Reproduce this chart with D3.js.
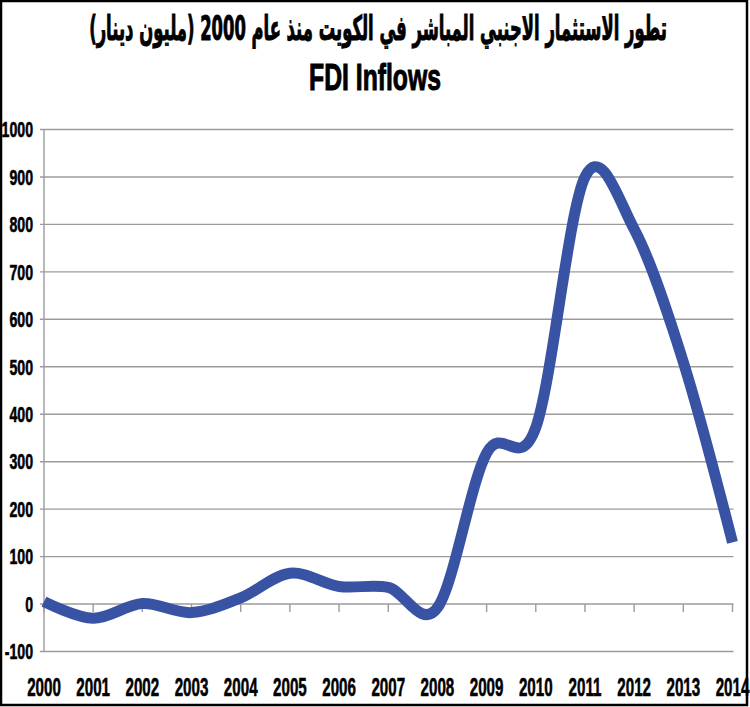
<!DOCTYPE html>
<html>
<head>
<meta charset="utf-8">
<script src="https://cdn.jsdelivr.net/npm/d3@7"></script>
<style>
  html, body { margin: 0; padding: 0; background: #fff; }
  svg { display: block; }
</style>
</head>
<body>
<svg id="chart" width="750" height="707"></svg>
<script>
// ---- data ----
const years = ["2000","2001","2002","2003","2004","2005","2006","2007","2008","2009","2010","2011","2012","2013","2014"];
const fdiValues = [5, -30, 1, -18, 13, 65, 37, 35, -8, 318, 372, 900, 790, 510, 130];
const yTicks = [-100, 0, 100, 200, 300, 400, 500, 600, 700, 800, 900, 1000];
const titleAr = "تطور الاستثمار الاجنبي المباشر في الكويت منذ عام 2000 (مليون دينار)";
const titleEn = "FDI Inflows";

// ---- layout ----
const W = 750, H = 707;
const plot = { left: 44, right: 732.5, top: 129.5, bottom: 651.5 };
const svg = d3.select("#chart");
const narrow = "'Liberation Sans Narrow', 'Arial Narrow', 'Liberation Sans', Arial, sans-serif";

svg.append("rect").attr("x", 0).attr("y", 0).attr("width", W).attr("height", H).attr("fill", "#fff");

const x = d3.scalePoint().domain(years).range([plot.left, plot.right]);
const y = d3.scaleLinear().domain([-100, 1000]).range([plot.bottom, plot.top]);

// gridlines
svg.append("g").selectAll("line").data(yTicks).join("line")
  .attr("x1", plot.left - 4).attr("x2", plot.right + 1)
  .attr("y1", d => y(d)).attr("y2", d => y(d))
  .attr("stroke", "#9b9b9b").attr("stroke-width", 1.4);

// vertical axis line
svg.append("line")
  .attr("x1", plot.left).attr("x2", plot.left)
  .attr("y1", y(1000)).attr("y2", y(-100))
  .attr("stroke", "#9b9b9b").attr("stroke-width", 1.4);

// category ticks on zero line
svg.append("g").selectAll("line").data(years).join("line")
  .attr("x1", d => x(d)).attr("x2", d => x(d))
  .attr("y1", y(0)).attr("y2", y(0) + 8)
  .attr("stroke", "#9b9b9b").attr("stroke-width", 1.4);

function measure(text, size, family) {
  const t = svg.append("text").attr("font-family", family).attr("font-weight", "bold")
    .attr("font-size", size).text(text);
  const w = t.node().getComputedTextLength();
  t.remove();
  return w;
}

// y labels
const ySize = 22;
const ySx = 31.5 / measure("1000", ySize, narrow);
svg.append("g").selectAll("text").data(yTicks).join("text")
  .attr("transform", d => `translate(33,${y(d) + 7.8}) scale(${ySx},1)`)
  .attr("text-anchor", "end")
  .attr("font-family", narrow).attr("font-weight", "bold").attr("font-size", ySize)
  .attr("fill", "#000").attr("stroke", "#000").attr("stroke-width", 0.6)
  .text(d => d);

// x labels
const xSize = 26;
const xSx = 33.7 / measure("2000", xSize, narrow);
svg.append("g").selectAll("text").data(years).join("text")
  .attr("transform", d => `translate(${x(d)},695.5) scale(${xSx},1)`)
  .attr("text-anchor", "middle")
  .attr("font-family", narrow).attr("font-weight", "bold").attr("font-size", xSize)
  .attr("fill", "#000").attr("stroke", "#000").attr("stroke-width", 0.6)
  .text(d => d);

// line
const line = d3.line()
  .x((d, i) => x(years[i]))
  .y(d => y(d))
  .curve(d3.curveCatmullRom.alpha(0));
svg.append("path")
  .datum(fdiValues)
  .attr("d", line)
  .attr("fill", "none")
  .attr("stroke", "#3853a4")
  .attr("stroke-width", 11)
  .attr("stroke-linecap", "butt")
  .attr("stroke-linejoin", "round");

// titles
const arFamily = "'DejaVu Sans Condensed', 'DejaVu Sans', 'Noto Sans', sans-serif";
const arSize = 34;
const arT = svg.append("text")
  .attr("font-family", arFamily).attr("font-weight", "bold").attr("font-size", arSize)
  .attr("direction", "rtl").attr("text-anchor", "middle")
  .attr("fill", "#000").attr("stroke", "#000").attr("stroke-width", 1)
  .text(titleAr);
const arW = arT.node().getComputedTextLength();
arT.attr("transform", `translate(378,40) scale(${578 / arW},1)`);

const enSize = 37;
const enT = svg.append("text")
  .attr("font-family", narrow).attr("font-weight", "bold").attr("font-size", enSize)
  .attr("text-anchor", "middle").attr("fill", "#000")
  .attr("stroke", "#000").attr("stroke-width", 1)
  .text(titleEn);
const enW = enT.node().getComputedTextLength();
enT.attr("transform", `translate(375,90) scale(${132 / enW},1)`);

// frame
svg.append("rect").attr("x", 1).attr("y", 1).attr("width", 746).attr("height", 704)
  .attr("fill", "none").attr("stroke", "#000").attr("stroke-width", 2.5);
</script>
</body>
</html>
